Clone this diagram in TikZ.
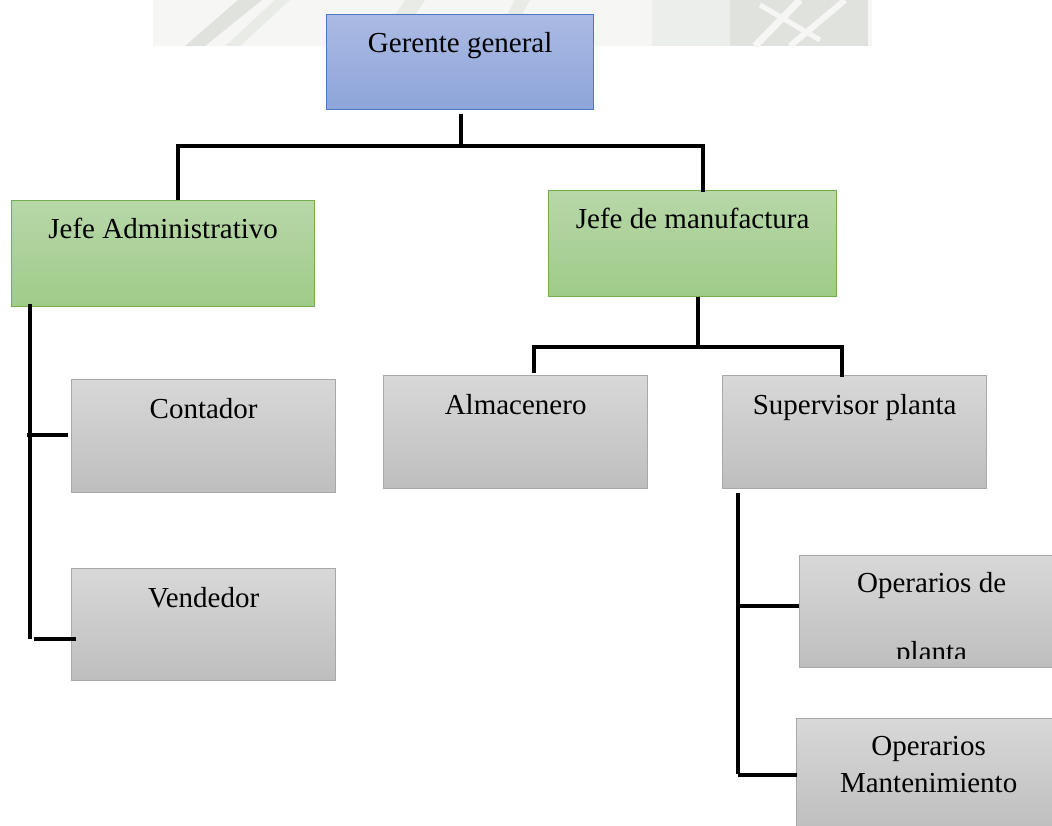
\documentclass[tikz,border=0pt]{standalone}
\usepackage{fontspec}
\setmainfont{Liberation Serif}
\usetikzlibrary{calc}
\definecolor{blueT}{HTML}{ABBAE3}
\definecolor{blueB}{HTML}{8DA5DA}
\definecolor{blueD}{HTML}{4A76C6}
\definecolor{greenT}{HTML}{B7D7A8}
\definecolor{greenB}{HTML}{9FCB89}
\definecolor{greenD}{HTML}{72AE4B}
\definecolor{grayT}{HTML}{D8D8D8}
\definecolor{grayB}{HTML}{BEBEBE}
\definecolor{grayD}{HTML}{A8A8A8}
\definecolor{wmL}{HTML}{F6F7F5}
\definecolor{wmD}{HTML}{E0E3DD}
\tikzset{
  boxbase/.style={draw, line width=1.3pt, anchor=north west, inner sep=0pt},
  bluebox/.style={boxbase, draw=blueD, top color=blueT, bottom color=blueB},
  greenbox/.style={boxbase, draw=greenD, top color=greenT, bottom color=greenB},
  graybox/.style={boxbase, draw=grayD, top color=grayT, bottom color=grayB},
  txt/.style={font=\fontsize{29}{33}\selectfont, inner sep=0pt, anchor=base},
  conn/.style={line width=3.8pt, draw=black},
}
\begin{document}
\begin{tikzpicture}[x=1pt,y=-1pt]
\useasboundingbox (0,0) rectangle (1052,825);
% faint watermark band
\fill[wmL] (153,0) rectangle (872,46);
\fill[wmD] (185,46) -- (205,46) -- (262,0) -- (238,0) -- cycle;
\fill[wmD!70] (225,46) -- (240,46) -- (290,0) -- (275,0) -- cycle;
\fill[wmD!70] (375,46) -- (395,46) -- (425,0) -- (405,0) -- cycle;
\fill[wmD!70] (490,46) -- (505,46) -- (530,0) -- (515,0) -- cycle;
\fill[wmD!60] (652,0) rectangle (730,46);
\fill[wmD] (730,0) rectangle (868,46);
\draw[wmL, line width=7pt] (755,46) -- (800,0);
\draw[wmL, line width=6pt] (790,46) -- (845,0);
\draw[wmL, line width=5pt] (760,5) -- (820,40);

% boxes
\node[bluebox, minimum width=267pt, minimum height=95pt] (g) at (326,14) {};
\node[greenbox, minimum width=303pt, minimum height=106pt] (ja) at (11,200) {};
\node[greenbox, minimum width=288pt, minimum height=106pt] (jm) at (548,190) {};
\node[graybox, minimum width=264pt, minimum height=113pt] (co) at (71,379) {};
\node[graybox, minimum width=264pt, minimum height=112pt] (ve) at (71,568) {};
\node[graybox, minimum width=264pt, minimum height=113pt] (al) at (383,375) {};
\node[graybox, minimum width=264pt, minimum height=113pt] (sp) at (722,375) {};
\node[graybox, minimum width=264pt, minimum height=112pt] (op) at (799,555) {};
\node[graybox, minimum width=264pt, minimum height=112pt] (om) at (796,718) {};

% texts
\node[txt] (gt) at ($(g.north)+(0,38)$) {Gerente general};
\node[txt] (jat) at ($(ja.north)+(0,38)$) {Jefe Administrativo};
\node[txt] (jmt) at ($(jm.north)+(0,38)$) {Jefe de manufactura};
\node[txt] (cot) at ($(co.north)+(0,39)$) {Contador};
\node[txt] (vet) at ($(ve.north)+(0,39)$) {Vendedor};
\node[txt] (alt) at ($(al.north)+(0,39)$) {Almacenero};
\node[txt] (spt) at ($(sp.north)+(0,39)$) {Supervisor planta};
\node[txt] (opt1) at ($(op.north)+(0,37)$) {Operarios de};
\begin{scope}
  \clip (op.north west) rectangle ($(op.south east)+(0,-10)$);
  \node[txt] (opt2) at ($(op.north)+(0,106)$) {planta};
\end{scope}
\node[txt] (omt1) at ($(om.north)+(0,37)$) {Operarios};
\node[txt] (omt2) at ($(om.north)+(0,74)$) {Mantenimiento};

% connectors
\coordinate (j1) at ($(g.south)+(0.5,36)$);
\draw[conn] ($(g.south)+(0.5,4)$) -- (j1);
\draw[conn] ($(ja.north west)+(167,0)$) |- (j1) -| ($(jm.north west)+(155,2)$);

\coordinate (j2) at ($(jm.south)+(5,50)$);
\draw[conn] ($(jm.south)+(5,0)$) -- (j2);
\draw[conn] ($(al.north west)+(151,-2)$) |- (j2) -| ($(sp.north west)+(120,2)$);

\coordinate (a1) at ($(ja.south west)+(19,-3)$);
\coordinate (a2) at ($(ja.south west)+(19,332)$);
\draw[conn] (a1) -- (a2);
\draw[conn] ($(co.west)+(-44,-1)$) -- ($(co.west)+(-3,-1)$);
\draw[conn] ($(ve.west)+(-37,14)$) -- ($(ve.west)+(5,14)$);

\coordinate (s1) at ($(sp.south west)+(16,4)$);
\coordinate (s2) at ($(sp.south west)+(16,285)$);
\draw[conn] (s1) -- (s2);
\draw[conn] ($(op.west)+(-61,-6)$) -- ($(op.west)+(0,-6)$);
\draw[conn] ($(om.west)+(-58,0)$) -- ($(om.west)+(1,0)$);
\end{tikzpicture}
\end{document}
